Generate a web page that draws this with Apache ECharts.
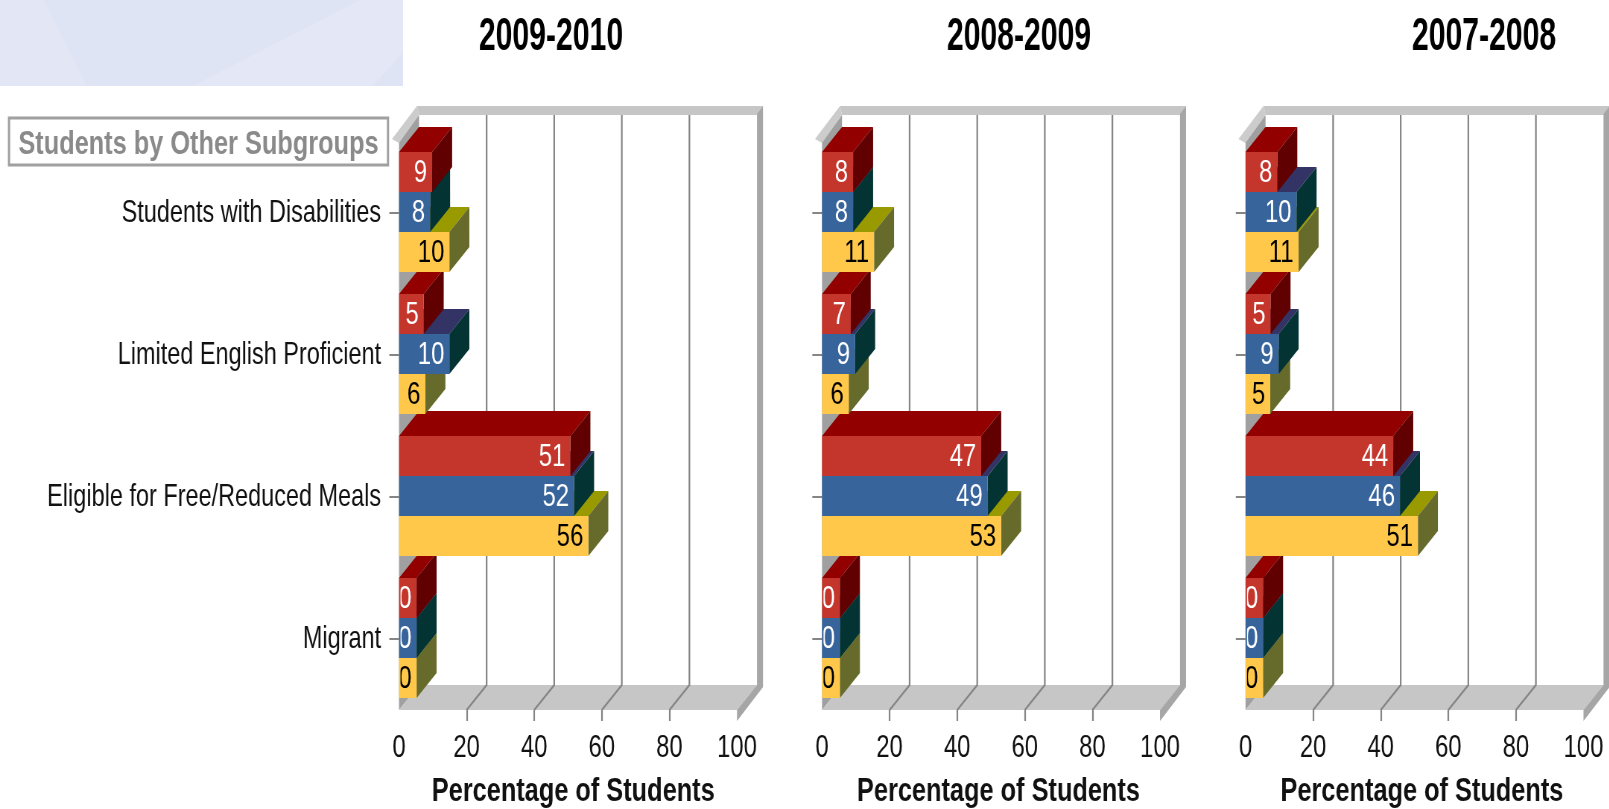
<!DOCTYPE html>
<html>
<head>
<meta charset="utf-8">
<style>
html,body{margin:0;padding:0;background:#fff;overflow:hidden;width:1609px;height:809px}
#c{width:2160px;height:809px;transform:scaleX(0.745);transform-origin:0 0;filter:blur(0.3px)}
</style>
<script src="https://cdn.jsdelivr.net/npm/echarts@6/dist/echarts.min.js"></script>
</head>
<body>
<div id="c"></div>
<script>
// ---- data ----
const categories = ['Students with Disabilities','Limited English Proficient','Eligible for Free/Reduced Meals','Migrant'];
const years = ['2009-2010','2008-2009','2007-2008'];
const xTicks = [0,20,40,60,80,100];
const innerTicks = [20,40,60,80];
const seriesNames = ['Red group','Blue group','Yellow group'];

// printed percentages
const red2010 = [9,5,51,0];
const blue2010 = [8,10,52,0];
const yellow2010 = [10,6,56,0];
const red2009 = [8,7,47,0];
const blue2009 = [8,9,49,0];
const yellow2009 = [11,6,53,0];
const red2008 = [8,5,44,0];
const blue2008 = [10,9,46,0];
const yellow2008 = [11,5,51,0];

// bar lengths as actually drawn in the picture, in axis units
// (the original stretches short bars so their labels fit)
const redLen2010 = [9.8,7.3,50.7,5.2];
const blueLen2010 = [9.2,14.9,51.8,5.2];
const yellowLen2010 = [14.9,7.8,56,5.2];
const redLen2009 = [9.2,8.5,47.1,5.3];
const blueLen2009 = [9.2,9.8,49,5.3];
const yellowLen2009 = [15.4,7.9,53,5.3];
const redLen2008 = [9.4,7.4,43.7,5.2];
const blueLen2008 = [15.1,9.8,45.7,5.2];
const yellowLen2008 = [15.7,7.3,51,5.2];

const panelValues = [[red2010,blue2010,yellow2010],[red2009,blue2009,yellow2009],[red2008,blue2008,yellow2008]];
const panelLengths = [[redLen2010,blueLen2010,yellowLen2010],[redLen2009,blueLen2009,yellowLen2009],[redLen2008,blueLen2008,yellowLen2008]];

// ---- layout and style ----
// The picture is horizontally squeezed: the chart is laid out wide and the page condenses it.
const SQ = 0.745, S = 1/SQ;
const FONT = '"Liberation Sans", Arial, sans-serif';
const panelLeft = [399*S,822*S,1245.5*S];
const titleX = [551*S,1019*S,1484*S];
const namePad = [14,20,20];
const plotW = 338*S, plotTop = 142, plotH = 568;
const DX = 20*S, DY = 25;
const faces = [
  {front:'#C4352C', top:'#920000', side:'#600000', text:'#FFFFFF'},
  {front:'#38649C', top:'#333366', side:'#033333', text:'#FFFFFF'},
  {front:'#FFC84A', top:'#999900', side:'#666B2B', text:'#000000'}
];

function poly(points, fill, z2){
  return {type:'polygon', shape:{points}, style:{fill}, z2, silent:true};
}

function renderWalls(params, api){
  const cs = params.coordSys;
  const L = cs.x, T = cs.y, R = cs.x+cs.width, B = cs.y+cs.height;
  const backT = T-DY-2, capT = backT-9;
  const kids = [];
  const w6 = 6*S, w2 = 2*S, w7 = 7*S;
  kids.push(poly([[L+DX,backT],[L+DX,B-DY],[L,B],[L,T]],'#A0A0A0',0));          // left wall
  kids.push(poly([[L+DX,B-DY],[R+DX,B-DY],[R,B],[L,B]],'#C6C6C6',1));           // floor
  kids.push(poly([[L+DX-w2,capT],[R+DX+w6,capT],[R+DX,backT],[L+DX,backT]],'#C6C6C6',1)); // top cap
  kids.push(poly([[L+DX-w2,capT],[L+DX,backT],[L,T+1],[L-w7,T-3]],'#CCCCCC',1));  // left cap
  kids.push(poly([[R+DX,capT+8],[R+DX+w6,capT],[R+DX+w6,B-DY+2],[R,B+11],[R,B],[R+DX,B-DY]],'#A6A6A6',1)); // right wall
  innerTicks.forEach(t=>{
    const x = api.coord([t,0])[0];
    kids.push({type:'polyline',shape:{points:[[x+DX,backT],[x+DX,B-DY],[x,B]]},
      style:{stroke:'#858585',lineWidth:2.2,fill:null},z2:2,silent:true});
  });
  return {type:'group',children:kids};
}

function barRenderer(sIdx){
  const c = faces[sIdx];
  return function(params, api){
    const len = api.value(0), cat = api.value(1), label = api.value(2);
    const h = api.size([0,1])[1]*0.2817;
    const p0 = api.coord([0,cat]);
    const p1 = api.coord([len,cat]);
    const x0 = p0[0], x1 = p1[0];
    const y0 = p0[1]-1-1.5*h+sIdx*h, y1 = y0+h;
    const z = (3-cat)*10+(2-sIdx);
    return {type:'group',children:[
      poly([[x0,y0],[x0+DX,y0-DY],[x1+DX,y0-DY],[x1,y0]],c.top,z),
      poly([[x1,y0],[x1+DX,y0-DY],[x1+DX,y1-DY],[x1,y1]],c.side,z),
      {type:'rect',shape:{x:x0,y:y0,width:x1-x0,height:h},style:{fill:c.front},z2:z,silent:true},
      {type:'text',style:{x:x1-5*S,y:(y0+y1)/2+1,text:String(label),fill:c.text,
        font:'32px '+FONT,textAlign:'right',textVerticalAlign:'middle'},z2:z+5,silent:true,
        clipPath:{type:'rect',shape:{x:x0+2,y:y0,width:x1-x0,height:h}}}
    ]};
  };
}

const grid=[], xAxis=[], yAxis=[], series=[];
years.forEach((yr,i)=>{
  grid.push({left:panelLeft[i],top:plotTop,width:plotW,height:plotH,outerBoundsMode:'none',containLabel:false});
  xAxis.push({type:'value',gridIndex:i,min:0,max:100,interval:20,
    axisLine:{show:false},
    axisTick:{show:true,length:11,customValues:innerTicks,lineStyle:{color:'#858585',width:2.2}},
    splitLine:{show:false},
    axisLabel:{fontFamily:FONT,fontSize:32,color:'#111',margin:22,customValues:xTicks},
    name:'Percentage of Students',nameLocation:'middle',nameGap:65,
    nameTextStyle:{fontFamily:FONT,fontSize:34,fontWeight:'bold',color:'#111',padding:[0,0,0,namePad[i]]}
  });
  yAxis.push({type:'category',gridIndex:i,inverse:true,data:categories,
    axisLine:{show:false},
    axisTick:{show:true,length:13,alignWithLabel:true,lineStyle:{color:'#858585',width:2}},
    splitLine:{show:false},
    axisLabel:{show:i===0,fontFamily:FONT,fontSize:31.5,color:'#111',margin:24,interval:0,padding:[4,0,0,0]}
  });
  series.push({type:'custom',xAxisIndex:i,yAxisIndex:i,z:1,clip:false,silent:true,
    renderItem:renderWalls,data:[[0,0]],encode:{x:0,y:1}});
  seriesNames.forEach((n,s)=>{
    const rows = categories.map((_,k)=>[panelLengths[i][s][k],k,panelValues[i][s][k]]);
    series.push({type:'custom',name:n+' '+yr,xAxisIndex:i,yAxisIndex:i,z:2,clip:false,silent:true,
      renderItem:barRenderer(s),data:rows,encode:{x:0,y:1}});
  });
});

const graphic = [
  {type:'rect',shape:{x:0,y:0,width:403*S,height:86},style:{fill:'#DFE4F5'},z:-10},
  {type:'polygon',shape:{points:[[193*S,86],[360*S,0],[403*S,0],[403*S,52],[373*S,86]]},style:{fill:'#E4E8F6'},z:-9},
  {type:'polygon',shape:{points:[[0,0],[44*S,0],[87*S,86],[0,86]]},style:{fill:'#E3E6F5'},z:-9},
  {type:'rect',shape:{x:9*S,y:118,width:379*S,height:47},style:{fill:'#fff',stroke:'#A0A0A0',lineWidth:3},z:50},
  {type:'text',x:198.5*S,y:145,z:51,style:{text:'Students by Other Subgroups',fill:'#8A8A8A',
    font:'bold 34px '+FONT,textAlign:'center',textVerticalAlign:'middle'}}
];
years.forEach((yr,i)=>{
  graphic.push({type:'text',x:titleX[i],y:37,z:51,scaleX:0.88,style:{text:yr,fill:'#000',
    font:'bold 46px '+FONT,textAlign:'center',textVerticalAlign:'middle'}});
});

const chart = echarts.init(document.getElementById('c'),null,{width:2160,height:809,renderer:'canvas'});
chart.setOption({animation:false,backgroundColor:'#fff',grid,xAxis,yAxis,series,graphic});
</script>
</body>
</html>
